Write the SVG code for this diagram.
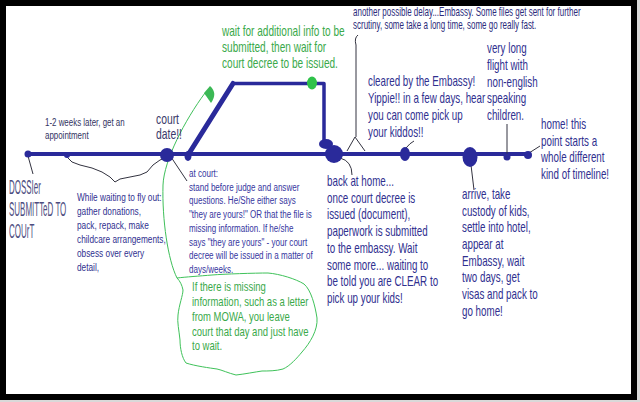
<svg xmlns="http://www.w3.org/2000/svg" width="640" height="402" viewBox="0 0 640 402">
<style>
.t{font-family:"Liberation Sans",Arial,sans-serif;fill:#30308f}
.f14{font-size:14px}
.f115{font-size:11.5px}
.gr{fill:#3aa94a}
.lead{fill:none;stroke:#333340;stroke-width:1}
.tl{fill:none;stroke:#2a2a9a;stroke-linecap:round;stroke-linejoin:round}
.dot{fill:#2a2a9a}
</style>
<rect width="640" height="402" fill="#d9d9d9"/>
<rect x="3" y="3" width="631" height="394" fill="#fff" stroke="#000" stroke-width="6"/>

<g id="connectors">
  <line x1="28" y1="154" x2="528" y2="154" class="tl" stroke-width="4"/>
  <path d="M188,155 L233,83.5" class="tl" stroke-width="5"/>
  <path d="M233,83.5 L324,83.5 L324,141" class="tl" stroke-width="3.5"/>
  <path d="M28,156 L33,174" class="lead"/>
  <path d="M67,157 L72,162 L80,165 L92,168 L102,172 L110,177 L115,182 L120,179 L130,177 L140,175 L147,172 L153,165 L160,160 L165,158" class="lead" stroke="#444"/>
  <path d="M171,157 L187,181" class="lead"/>
  <path d="M340,158 Q352,161 352,175" class="lead"/>
  <path d="M358,35 Q354,38 356,45 L356,137 M347,151 L355,137 L365,151" class="lead"/>
  <path d="M406,148 Q410,143 414,141" class="lead"/>
  <path d="M471,165 L474,190" class="lead"/>
  <path d="M507,124 L507,155" class="lead"/>
  <path d="M529,153 L540,146" class="lead"/>
  <path d="M177,278 C168,260 162,220 163,185 C164,160 185,120 205,93" fill="none" stroke="#3fbf5a" stroke-width="1"/>
  <path d="M204,93 L210,86 Q218,93 211,103 Z" fill="#3bb855"/>
</g>

<g id="dossier">
  <circle cx="28" cy="154" r="3.5" class="dot"/>
  <g class="t" transform="matrix(0.38,0,0,1,9,0)" style="font-size:21px;fill:#4d4d80">
    <text y="194">DOSSIer</text>
    <text y="216">SUBMITTeD TO</text>
    <text y="238">COUrT</text>
  </g>
</g>

<g id="appointment">
  <circle cx="67" cy="155" r="3" class="dot"/>
  <g class="t f115" transform="matrix(0.69,0,0,1,45,0)" style="fill:#33335f">
    <text y="126">1-2 weeks later, get an</text>
    <text y="139">appointment</text>
  </g>
</g>

<g id="waiting">
  <g class="t f115" transform="matrix(0.72,0,0,1,77,0)">
    <text y="201">While waiting to fly out:</text>
    <text y="215">gather donations,</text>
    <text y="229">pack, repack, make</text>
    <text y="243">childcare arrangements,</text>
    <text y="257">obsess over every</text>
    <text y="271">detail,</text>
  </g>
</g>

<g id="court-date">
  <circle cx="167" cy="155" r="7" class="dot"/>
  <g class="t f14" transform="matrix(0.74,0,0,1,156,0)" style="fill:#3a3a6a">
    <text y="124">court</text>
    <text y="139">date!!</text>
  </g>
</g>

<g id="at-court">
  <ellipse cx="188" cy="156" rx="3.5" ry="5" class="dot"/>
  <g class="t f115" transform="matrix(0.70,0,0,1,189,0)" style="fill:#3636a0">
    <text y="177">at court:</text>
    <text y="190.7">stand before judge and answer</text>
    <text y="204.4">questions. He/She either says</text>
    <text y="218.1">"they are yours!" OR that the file is</text>
    <text y="231.9">missing information. If he/she</text>
    <text y="245.6">says "they are yours" - your court</text>
    <text y="259.3">decree will be issued in a matter of</text>
    <text y="273">days/weeks.</text>
  </g>
</g>

<g id="missing-info">
  <path d="M177,278 C185,277 200,276 212,275 S255,273 268,273 C280,274 296,279 304,284 C311,290 315,305 317,318 C318,330 310,343 302,352 C297,358 290,366 283,369 C276,371 268,371 262,371 C255,372 245,374 236,375 C228,373 222,370 217,369 C210,368 195,366 186,363 C182,358 180,348 180,340 C179,330 177,322 178,315 C179,305 183,295 183,290 C182,285 180,281 177,278 Z" fill="none" stroke="#3fc25a" stroke-width="1"/>
  <g class="t gr" transform="matrix(0.73,0,0,1,192,0)" style="font-size:13px">
    <text y="291">If there is missing</text>
    <text y="306">information, such as a letter</text>
    <text y="321">from MOWA, you leave</text>
    <text y="336">court that day and just have</text>
    <text y="350">to wait.</text>
  </g>
</g>

<g id="wait-decree">
  <ellipse cx="312" cy="83" rx="5" ry="6.5" fill="#2fc24a"/>
  <g class="t gr f14" transform="matrix(0.72,0,0,1,222,0)">
    <text y="36">wait for additional info to be</text>
    <text y="52">submitted, then wait for</text>
    <text y="68">court decree to be issued.</text>
  </g>
</g>

<g id="back-home">
  <ellipse cx="326" cy="144" rx="7" ry="5" class="dot"/>
  <circle cx="334" cy="154" r="9" class="dot"/>
  <g class="t f14" transform="matrix(0.70,0,0,1,327,0)">
    <text y="186">back at home...</text>
    <text y="202.7">once court decree is</text>
    <text y="219.4">issued (document),</text>
    <text y="236.1">paperwork is submitted</text>
    <text y="252.9">to the embassy. Wait</text>
    <text y="269.6">some more... waiting to</text>
    <text y="286.3">be told you are CLEAR to</text>
    <text y="303">pick up your kids!</text>
  </g>
</g>

<g id="embassy-delay">
  <g class="t" transform="matrix(0.64,0,0,1,353,0)" style="font-size:12.5px;fill:#2b2b7b">
    <text y="16">another possible delay...Embassy. Some files get sent for further</text>
    <text y="29">scrutiny, some take a long time, some go really fast.</text>
  </g>
</g>

<g id="cleared">
  <ellipse cx="405" cy="154" rx="5" ry="7" class="dot"/>
  <g class="t f14" transform="matrix(0.70,0,0,1,368,0)">
    <text y="86.5">cleared by the Embassy!</text>
    <text y="103.2">Yippie!! in a few days, hear</text>
    <text y="119.9">you can come pick up</text>
    <text y="136.6">your kiddos!!</text>
  </g>
</g>

<g id="arrive">
  <ellipse cx="470" cy="157" rx="7.5" ry="10" class="dot"/>
  <g class="t f14" transform="matrix(0.70,0,0,1,462,0)">
    <text y="199">arrive, take</text>
    <text y="215.7">custody of kids,</text>
    <text y="232.3">settle into hotel,</text>
    <text y="249">appear at</text>
    <text y="265.7">Embassy, wait</text>
    <text y="282.3">two days, get</text>
    <text y="299">visas and pack to</text>
    <text y="315.7">go home!</text>
  </g>
</g>

<g id="flight">
  <circle cx="507" cy="157" r="3.5" class="dot"/>
  <g class="t f14" transform="matrix(0.70,0,0,1,487,0)">
    <text y="53.2">very long</text>
    <text y="69.9">flight with</text>
    <text y="86.6">non-english</text>
    <text y="103.3">speaking</text>
    <text y="120">children.</text>
  </g>
</g>

<g id="home">
  <circle cx="528" cy="155" r="4" class="dot"/>
  <g class="t f14" transform="matrix(0.70,0,0,1,541,0)">
    <text y="129">home! this</text>
    <text y="145.7">point starts a</text>
    <text y="162.3">whole different</text>
    <text y="179">kind of timeline!</text>
  </g>
</g>
</svg>
